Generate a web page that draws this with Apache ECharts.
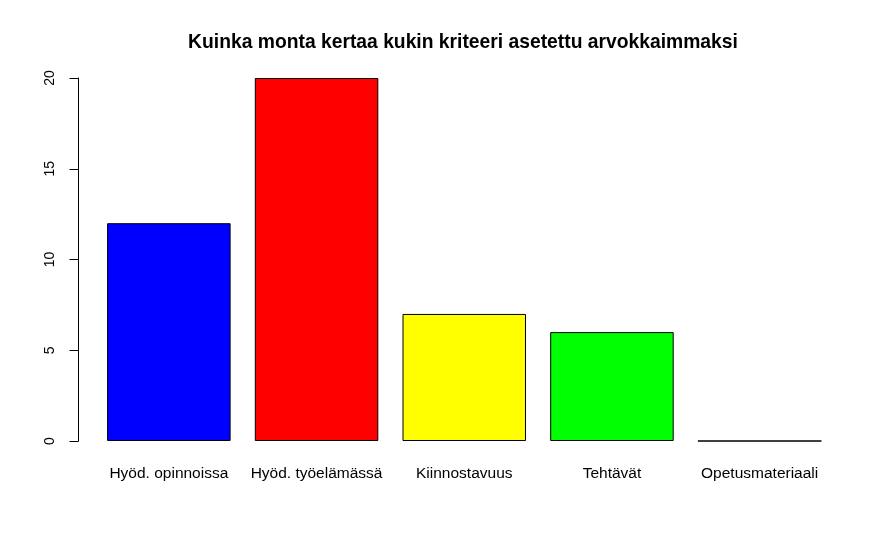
<!DOCTYPE html>
<html lang="fi">
<head>
	<meta charset="UTF-8">
	<title>Kuinka monta kertaa kukin kriteeri asetettu arvokkaimmaksi</title>
	<script src="https://cdn.jsdelivr.net/npm/echarts@6/dist/echarts.min.js"></script>
	<style>
		html, body { margin: 0; padding: 0; background: #fff; }
		#chart { width: 890px; height: 543px; }
	</style>
</head>
<body>
	<div id="chart"></div>

	<script>
	// data
	var categories = ['Hyöd. opinnoissa', 'Hyöd. työelämässä', 'Kiinnostavuus', 'Tehtävät', 'Opetusmateriaali'];
	var counts = [12, 20, 7, 6, 0];
	var barColors = ['#0000FF', '#FF0000', '#FFFF00', '#00FF00', '#BEBEBE'];
	var yTicks = [0, 5, 10, 15, 20];

	var chart = echarts.init(document.getElementById('chart'), null, { renderer: 'canvas' });

	var barData = counts.map(function (v, i) {
		return {
			value: v,
			itemStyle: { color: barColors[i] }
		};
	});

	var option = {
		backgroundColor: '#fff',
		animation: false,
		title: {
			text: 'Kuinka monta kertaa kukin kriteeri asetettu arvokkaimmaksi',
			left: 458,
			textAlign: 'center',
			top: 28,
			textStyle: {
				color: '#000',
				fontFamily: 'Liberation Sans',
				fontSize: 19.3,
				fontWeight: 'bold'
			}
		},
		grid: {
			left: 95,
			right: 56.5,
			top: 78,
			bottom: 102,
			containLabel: false
		},
		xAxis: {
			type: 'category',
			data: categories,
			axisLine: { show: false },
			axisTick: { show: false },
			axisLabel: {
				color: '#000',
				fontFamily: 'Liberation Sans',
				fontSize: 15.5,
				margin: 25,
				interval: 0
			}
		},
		yAxis: {
			type: 'value',
			min: yTicks[0],
			max: yTicks[yTicks.length - 1],
			interval: 5,
			offset: 16.5,
			splitLine: { show: false },
			axisLine: { show: true, lineStyle: { color: '#000', width: 1 } },
			axisTick: { show: true, length: 9, lineStyle: { color: '#000', width: 1 } },
			axisLabel: {
				color: '#000',
				fontFamily: 'Liberation Sans',
				fontSize: 14,
				rotate: 90,
				margin: 21
			}
		},
		series: [
			{
				type: 'bar',
				data: barData,
				barWidth: 123.5,
				itemStyle: {
					borderColor: '#000',
					borderWidth: 1
				}
			}
		]
	};
	chart.setOption(option);
	</script>
</body>
</html>
